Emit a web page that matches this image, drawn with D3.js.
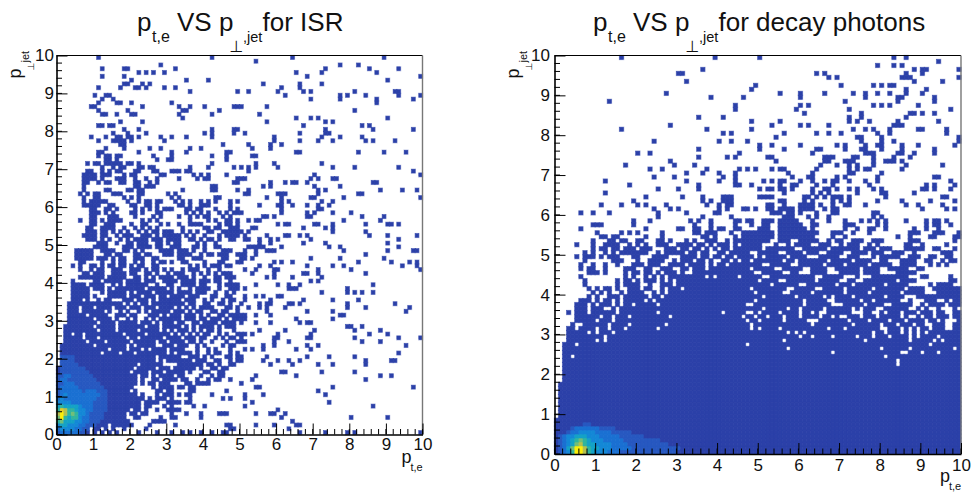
<!DOCTYPE html>
<html><head><meta charset="utf-8">
<script src="https://cdn.jsdelivr.net/npm/d3@7"></script>
<style>html,body{margin:0;background:#fff}svg{display:block}text{font-family:"Liberation Sans",Arial,sans-serif;fill:#111}</style>
</head><body><svg id="c" width="975" height="493"></svg>
<script>
// occupied bins per row; first entry is the bottom row (y bin 0), last the top row (y bin 99)
const isrRows = [
"0-8 10 12 14 16 22 27 31 34 36 39 42 45 46 66 73 79 81 99",
"0-8 10 11 13 15 18 24 47 48 63",
"0-13 15-20 25 32 46 47 54 59 65 66",
"0-19 26-29 64",
"0-18 21 22 28 31 32 39 61 80 90",
"0-18 20 21 23 24 31 35 39 44-46 54 58 59 62",
"0-19 21 22 24 27 30-33 60",
"0-22 24 25 29 31 37 40 51 86",
"0-22 24-27 30-33 35 36 53 74",
"0-23 25 27-29 31 36 45 47 51",
"0-21 23 27 29-31 33 35 36 42 51 56 73",
"0-19 21 27 28 30 31 36 37 46 71",
"0-20 26 28-31 33 34 36 37 54 55 75 97",
"0-21 23 25 26 28-30 35 36 38-41 50",
"0-21 23 26 27 29-32 34 35 38 41 43 44 47 53 84",
"0-21 23 24 26 28-31 33 34 39 42 44 45 54 65 88 91",
"0-19 21-24 26-28 30-34 36 40 41 44 45 61 62 72 81",
"0-20 22-26 28-30 32-37 39 42 43 45 46",
"1-21 23-28 33-39 41 42 44 47 48 58 64 71 75 84",
"1-26 28 30-36 38-40 43 44 47 49 50 56 60 63 66 84 91 92",
"1-26 28-33 36-38 40 42 46 47 49 50 57 68 74 81",
"1-11 13-16 18-20 22-29 31 33-36 38 41 43 44 47 49 93",
"1-13 15-18 20-22 24 26-29 31-34 38 41 43 47 51 53 56 65 69",
"1-9 11-18 20 22-26 29-31 33-35 38 40 45 47 48 56 59 68 71 95",
"2-7 9-12 14-19 21-26 28 29 31-34 36 37 39 42 46 49 50 51 59 63 83 88",
"2-6 8-10 12-18 20 21 23-28 30-33 35-37 39 40 43 45 47 48 50 59 60 68 69 81 93 99",
"2 3 5 6 8-17 19-23 25-30 32 34 36 38 40 41 44 46 49 50 51 53 60 69 85 90",
"2-10 12-15 17-21 23-27 29 31 33-35 37 39 41 42 44 48 55 62 70 81 88",
"2-9 11-15 17-23 25-27 29-33 35 37 39-42 44 46-48 79 80 83",
"3-10 12-15 17-21 23-25 27 29-31 33 34 37 38 40-43 45-48 50 54 58 66 68 69",
"3-9 11-14 16 19 21 24 26 28-33 35-37 39 40 42-44 46 48 49 50 51 65 75",
"3-7 9-13 16-18 20 21 25-27 29 31-33 35-37 39 41 44 45 47-50 51 54 58 77 78",
"3-5 7-12 14 17 19 22 24 26-30 32-34 36 38 39 42 43 45 46 49 57 68 75 95",
"3-5 7-9 11-14 16-18 20-22 24-26 28-31 33 35 37 39-42 46 47 49 52 55 57 62 79 84 96",
"3-17 19 21 23 24 26-34 36 37 40 41 44 45 47 50 55 57 58 63 64 66 79 92",
"4-6 8 11 13 14 18-20 22-24 26 28-33 35-37 40 42 45 47 48 51 58 67 75 82",
"4-8 10 14-18 20-22 24-26 28 29 31-34 36-38 42 43 46 47 51 54 56 60 61",
"4-8 12 14-18 20 22-25 27-31 33-36 38-40 43 46 48 72 79 81 83 86",
"4-8 10-12 14 16-23 25-29 31 33 36 38-41 44 47-49 51 63-65 79",
"4-7 9-12 15 17 19-24 27 30 31 34-37 39 40 44 46-49 54 60 63 66 86",
"4 10 11 13-17 19-22 24-26 29-32 34-37 39-41 43 44 47 69 71",
"6-12 14-18 21 22 24 26 28-31 33-35 37 40 43 44 46-48 57 59 64 72",
"7 8 10-12 15-18 20 21 24 25 27 30 32-34 37 39 41 43 45-47 53 59 67 68 71 84",
"6 9 11 12 15-17 20-22 24 26 27 29 31 34 36-38 41 44 51 54 59 60 71 80 99",
"4 6 9 10 12 14 15 17 18 20 22 23 26 27 36 38 40 42-44 46 47 55 58 68 75 78 94 98",
"6 7 12 15 17 18 21 23 26 28 29 31 34 35 40 44 45 49 50 59 61 64 82 91 96 98",
"5-9 11-13 15 17 18 21-23 26 27 33 34 37-39 45 46 50 51 53 69 77 89",
"5-9 13 14 16 17 21 22 24 25 29-31 33-36 39 41 42 44-46 49 50 51 54 84",
"5-9 12-15 18 19 21 23 28-31 33-35 37 40 45-47 51 54 57-59 78 90 97 98",
"10-13 18-20 22-25 27 28 31-33 37 38 40 43 44 52-56 61 74 77 93",
"11-13 16 19 20 22-24 27 28 30 32 33 38 40 43 55 58 67 73 90",
"8-10 12 14 17 19 21-24 26-28 30-33 36 37 39 41 42 44 47 48 51 52 55 58 60 69 93",
"7-10 12 13 16 18-20 23-25 27 29-33 35 37 40 44 46-49 51 57 62 63 66 68 85 90 98",
"8-10 12 13 15 17 19 22 24 26 27 29-31 34 36 38 41 42 45-50 52 75 84",
"8 9 12-14 15 18 21 23 25 27 34 40 41 43 44 47-49 53 54 67 73 75",
"9 10 13-15 20 23 24 28 30 33 36-39 44 46 47 49 60 62 63 70 71 75 84 90 91 93",
"6 9 10 12 14-17 23 25 27 36 41 43 46 47 49 52 54 55 78 88",
"9 10 14-16 21 26 28 33 36 38 40 41 45 47 56 57 59 68 69 83 89",
"9 10 11 13 15 20 21 23 27 28 35 37 39 41 44 46 48 49 50 61 68 70 75 80",
"9 10 13 14 16 21 23 25 27 29-31 35 36 38 39 43 47 49 61 71 72",
"7-11 14 15 20 21 24 25 27 33 34 36 39-41 47 55 60 61 64 68 71 74",
"7 9-13 19 22 24 25 27 28 32 34 36 39 41 43 47 49 61 63 72 75",
"7 10 11 18 20 22 31 33 43 44 57 61 69 70 78 99",
"6 8 10 11 15-17 22 23 30 32 51 52 60-62 71 82 83",
"7 13 14 19 20 22 23 34 42 43 49 52 71 73 88 94 98",
"7 21 22 24-26 42 43 56 58 70 77",
"7 8 11 13 14 17 18 21 22 25 27 48 49 58 62 64 65 68 86 87",
"7-10 12 16-18 21 24 27 33 38 40 41 49-51 69 71 75 76",
"7-10 12-14 18 20 21 28 29 37 39 41 46 70 99",
"8 9 12 14 16 17 21 22 26 27 31-33 35 36 52 97",
"12 15 17 18 22 23 25 26 36 41 48 50 52 54 60 75 81 93",
"8 10 11 13-17 19 20 22 42 54 59 72",
"13 14 16 27 30 31 46",
"11 13 14 16 17 26 31 42 46 53 54",
"11 12 22 31 35 46 47 65 66 82 89 95",
"13 18 25 28 36 39 53 58",
"17 18 45 52 58 61",
"11 15-18 20 29 59 66 71 75 84 86 92",
"9 13 16 17 19 20 22 28 31 35 42 59 72 77 83",
"15 19 24 40 42 48 51 66 73 74",
"18 22 42 48 49 73 86 97",
"11 12 14 15 67 83 85",
"17 23 57 73 75",
"34 65 69 71 90",
"12 13 16 20 21 33 42 55",
"11 19 34 35 44 81",
"9 10 23 33 36 40 48-50 57",
"11 16 17 20 31 87",
"12 15 69 77 87 97",
"10 13 14 62 77 79 84 93 99",
"36 49 52 60 67 69 81 92 93",
"11 17 21 22 24 29 32 61 66",
"18 19 23 25 56 66 72",
"20 35 41 90",
"12 18 68 99",
"22 24 26 29 65 72 87",
"12 18 19 32 73 85 93",
"28 77 82",
"54",
"11 42 64 89"
];
// colour level of the busy bins, [y bin, first x bin, levels...]
const isrHeat = [
[0,0,2,3,3,3,3,3,2,2],[1,0,3,4,4,4,4,3,3,2,2],[2,0,4,5,5,4,4,4,3,3,2,2,2],
[3,0,6,7,5,5,5,4,4,3,3,2,2,2],[4,0,7,10,6,5,6,6,4,3,3,2,2,2,2],[5,0,8,10,8,6,7,6,4,4,3,2,2,2,2],
[6,0,6,9,8,6,6,5,4,4,3,3,2,2,2,2],[7,0,5,6,5,5,5,5,4,3,3,3,2,2,2,2],[8,0,4,4,4,4,3,3,3,3,3,3,2,2,2,2],
[9,0,3,4,3,3,3,3,3,3,3,3,3,2,2,2],[10,0,2,3,4,3,3,3,3,3,3,3,3,3,2,2],[11,0,2,3,3,3,3,3,3,2,3,3,3,2,2,2],
[12,0,2,3,3,3,3,3,2,2,2,2,2,2,2],[13,0,2,2,3,3,3,2,2,2,2,2,2,2],[14,0,2,3,3,2,2,2,2,2,2,2,2],
[15,0,2,2,3,3,2,2,2,2,2,2],[16,0,1,2,2,2,2,2,2,2,2],[17,1,2,2,2,2,2,2,2],[18,1,2,2,2,2,2],[19,1,2,2,2,2],[20,1,2,2,2,2]
];
const decayRows = [
"0-99","0-99","0-99","0-99","0-99","0-99","0-99","0-99","0-99","1-99",
"1-99","1-99","1-99","1-99","1-99","1-99","1-99","1-99","2-99","2-99",
"2-99","2-99","2-99","2-99","2-99","2-99","2-99","2-99","3-99","3-99",
"3-99","3-99","4-99","5-99","5-99","3-99",
"5-7 9-11 14 16-44 45-50 52-56 58 59 61-65 67-72 74 76-78 81-86 89 91 94 98",
"5-7 9 11-13 15 17 18 20-24 26-44 45 46 49-60 62-67 71-75 77-80 83-87 90 92-95 97-99",
"6-8 10 12 13 15 17-21 23 25-44 45-48 50-60 62-66 69-74 76 77 79-84 87 91-93 96 98 99",
"8 10 13-15 17-22 24 25 27-44 45-50 52-58 60-65 67 69-72 74-80 82-85 89-99",
"9 11 13 16 18-21 24 26 28-44 45-48 50-55 58-62 64-70 72-76 78-84 86-90 94-99",
"8 10 12 13 15 18-20 22 23 26 28-30 32-44 45-47 49-56 59-63 66-70 72-77 79-85 87-90 93-99",
"7 15 17-20 23 26-28 30-44 45-52 54-59 62-68 70-72 74-80 82-86 92 94-97",
"7 15 17 18 20 22-24 26 28 30-44 45-49 51-54 57-63 65-69 72 73 76-83 85-88 97 98",
"6 17 19 22 24 26 28-36 38 40-44 46-50 53-63 66-70 74 78-86 90 91 97",
"8-10 12 17 19 20 22 23 25 27-29 31 34-44 45-48 51-55 58 59 63-66 70-74 76-79 84-88",
"6 8 9 12 17-19 22 23 26-28 31 32 34-36 38-44 45-47 49-53 56-60 63-66 69-74 76-79 82-86 89 90",
"6 9 12 15 19-21 23-25 28-31 33-36 38 40 41 43 44 45-50 53-57 60-65 67-70 72-76 78-82 85-88 92 94 96",
"7 14-16 20 23-26 29 31-33 35 36 38 41 42 44 46 47 49-55 57 58 60-66 68-72 74-77 80 81 85-88 91 92 95 97 98",
"5 7-9 11 13-15 19 20 24-27 31-34 36 37 39 40 42 43 45-48 50 52-56 58-61 65-69 72-74 78 80-84 87-89 92 93 96 97",
"7 9 12 14 16-22 25 27-31 33 34 36 37 40 41 43 44 45-47 50-54 57-60 62-64 67-70 73-76 78-80 83-85 88 95-97",
"9 11 12 14 15 17-19 21-23 27-29 31 32 34 35 37 39 41 42 44 45-50 52-58 61-66 68-74 76-78 80-82 86-90 93 94 98",
"5 9 12-15 18 20 22 25-27 30-33 35 36 38 40-42 44 46-50 54 57 59-62 65-67 70 72-74 77 79 86 87 90 96",
"9 13 14 16 17 20 21 25 26 28 32 34 37-39 42 44 45-52 55-57 60-64 67 69 70 73-75 78-80 87-89 98",
"11 12 14 15 22 26 36 37 39 44 46-53 55-63 68 71 84 87 92 93 98 99",
"10 16 18 20 26 34 35 37-39 43 46-53 55-64 68-70 73 77 87-89 93-95 99",
"6 22 30 31 34 35 38 40 41 44 45 50-52 55-61 63 71 74 77 78 81 88 91 94",
"9-11 19 34 38 44 48 51 52 55-60 63 64 71-73 79 81 91 93 94 97",
"19 23 33 35 38 44 45 47 48 51-53 55-59 63 67 71 75 77 79 81 86 91 93 94 96",
"25 36 43 56-58 62 64 67 78 80",
"6 9 13 25 32 39 40 53-55 57 58 60 64 68 69 78 79",
"24 28 30 40 42 46 47 49 52 53 55-58 60-63 66 68 69 90 96 98",
"11 16 20 22 27 37 40 42 43 52 53 56 60-63 65 68 71 72 76 86 89 95",
"19 36 38 41-43 55 56 61 63 68 70 72 79 85 92 98",
"22 31 36 41-43 50-53 61 62 64 66 68-70 72 81 95 96",
"12 56 63 65 67 74 80 81 88",
"25 30 35 50 52 53 55 56 58 63 66 67 69 72 74 78 80 90 91 93 97",
"18 35 44 45 48 55 58 59 64 68 77 91 93 98",
"12 32 40 44 51 53 55 56 60 63 66 68 69 72 76 79 97",
"24 29 41 44 58 62 63 69 71 79 93 94",
"32 36 40 44 57 63 72 73 80",
"23 26 37 45 47 49 53 55 56 64 72 74 76 77 85",
"17 29 34 65 69 72 74 78 86 95",
"28 54 66 67 71-73 78 81-83 85",
"35 42 44 52 53 66-68 73 74 78 83 87",
"20 23 45 63 76-78 84 85 88 93",
"35 50 56 64 65 71 75 76 80 85 93",
"50 53 60 69 71 76 79 80 85 89 98",
"24 40 43 47 75 80 83 99",
"54 74 75 80 99",
"41 43 56 64 67 70 79 82 96",
"16 37 48 73 76 78 82 89 90 96",
"28 53 60 62 67 83-85",
"48 55 72 74 77 84 94",
"35 41 72 75 86",
"61 75 87 88 90 93",
"44 59 72 97",
"44 60 62 78 80 82 89",
"13 71 84 93",
"38 46 60 76 84 85 93",
"27 55 60 66 73 76 79 82 86 90",
"48 86 91",
"49 70 78 80 82 83",
"32 88 95",
"67 69 85-87 99",
"30 31 64 66 86 90",
"36 88 90 91 99",
"79 83 85",
"94",
"16 39 50 83 86"
];
// white holes inside the solid rows, [y bin, x bins...]
const decayGaps = [
[22,84],[23,84],[24,4,81],[25,68,85,86,90,94],[26,57,80,87,98],[27,5,47,92],[28,10,12,56,76,87,93,95],
[29,12,60,63,68,74,78,82,87,89,94],[30,8,10,14,57,59,61,78,81,85,87,89,91],
[31,5,10,13,17,25,48,50,55,67,71,80,81,85,87,89,92,96,97],[32,5,6,13,18,27,48,63,73,80,84,88,91,92,96,97],
[33,10,14,47,50,56,62,63,64,72,77,82,86,91,94,96,97,98],[34,11,14,18,28,46,49,52,56,60,65,68,70,71,75,79,85,87,88,90,93,97],
[35,4,8,15,25,41,47,48,50,55,60,63,65,66,73,74,75,78,79,81,85,89,93,96,97]
];
const decayHeat = [
[0,0,1,2,3,4,6,10,10,8,6,5,4,4,4,3,3,3,2,2,2,2,2,2,2,2,2,2,2,2,2,2],
[1,0,1,2,3,5,7,10,10,8,6,5,5,4,4,4,3,3,3,3,3,2,2,2,2,2,2,2,2,2,2,2,2],
[2,0,1,2,3,4,5,7,8,6,5,5,4,4,4,4,3,3,3,3,2,2,2,2,2,2,2,2,2,2],
[3,0,1,2,3,4,5,6,7,6,5,4,4,4,3,3,3,3,3,2,2,2,2,2,2,2,2,2],
[4,1,2,3,4,4,5,5,5,4,4,4,3,3,3,3,3,2,2,2,2,2,2],
[5,3,2,3,3,4,4,4,4,3,3,3,3,2,2,2,2,2],
[6,4,2,3,3,3,3,3,3,2,2,2,2],[7,7,2,2]
];
const levelColors = ["#2b40a8","#2758c0","#1a70d2","#1488d6","#14a2c6","#30b49e","#72be78","#b4c04e","#e8ca26","#fcee08"];
const levelTicks = [1,2,3,4,5,6,7,8,9,10];
const tickValues = [0,1,2,3,4,5,6,7,8,9,10];
const minorValues = d3.range(0,10.01,0.2);

const svg = d3.select("#c");
const color = d3.scaleLinear().domain(levelTicks).range(levelColors);
const expand = s => s.split(" ").flatMap(t => { const p=t.split("-").map(Number); return p.length>1?d3.range(p[0],p[1]+1):p; });

function buildCells(rows, gaps, heat){
  const m = new Map();
  const gapMap = new Map(gaps.map(g=>[g[0],new Set(g.slice(1))]));
  rows.forEach((s,r)=>expand(s).forEach(c=>{ if(!(gapMap.get(r)&&gapMap.get(r).has(c))) m.set(r*100+c,{r,c,v:1}); }));
  heat.forEach(h=>h.slice(2).forEach((v,i)=>{ const k=h[0]*100+h[1]+i; if(m.has(k)) m.get(k).v=v; }));
  return Array.from(m.values());
}

function panel(o){
  const x=d3.scaleLinear().domain([0,10]).range([o.l,o.r]);
  const y=d3.scaleLinear().domain([0,10]).range([o.b,o.t]);
  const g=svg.append("g");
  const cells=buildCells(o.rows,o.gaps,o.heat);
  // pale halo first, so that the solid cells stay clean on top of it
  g.append("g").selectAll("rect").data(cells).join("rect")
    .attr("x",d=>x(d.c/10)).attr("y",d=>y((d.r+1)/10))
    .attr("width",x(0.1)-x(0)).attr("height",y(0)-y(0.1))
    .attr("fill","none").attr("stroke",d=>color(d.v)).attr("stroke-width",1.4).attr("stroke-opacity",0.35);
  g.append("g").selectAll("rect").data(cells).join("rect")
    .attr("x",d=>x(d.c/10)).attr("y",d=>y((d.r+1)/10))
    .attr("width",x(0.1)-x(0)).attr("height",y(0)-y(0.1))
    .attr("fill",d=>color(d.v)).attr("stroke",d=>color(d.v)).attr("stroke-width",0.4);
  // frame
  g.append("line").attr("x1",o.l).attr("x2",o.r).attr("y1",o.t).attr("y2",o.t).attr("stroke","#000").attr("stroke-width",1);
  g.append("line").attr("x1",o.r).attr("x2",o.r).attr("y1",o.t).attr("y2",o.b).attr("stroke","#777").attr("stroke-width",1.4);
  // axes, ROOT style with ticks inside the frame
  const ax=g.append("g").attr("transform",`translate(0,${o.b})`)
    .call(d3.axisBottom(x).tickValues(tickValues).tickFormat(d3.format("d")).tickSize(-11).tickSizeOuter(0).tickPadding(o.px));
  const ay=g.append("g").attr("transform",`translate(${o.l},0)`)
    .call(d3.axisLeft(y).tickValues(tickValues).tickFormat(d3.format("d")).tickSize(-11).tickSizeOuter(0).tickPadding(o.py));
  [ax,ay].forEach(a=>{a.selectAll("text").style("font-size","17px").attr("fill","#111");a.select(".domain").attr("stroke-width",1.6).attr("stroke","#000");a.selectAll("line").attr("stroke","#000").attr("stroke-width",1);});
  g.append("g").selectAll("line").data(minorValues).join("line")
    .attr("x1",d=>x(d)).attr("x2",d=>x(d)).attr("y1",o.b).attr("y2",o.b-5.5).attr("stroke","#000");
  g.append("g").selectAll("line").data(minorValues).join("line")
    .attr("y1",d=>y(d)).attr("y2",d=>y(d)).attr("x1",o.l).attr("x2",o.l+5.5).attr("stroke","#000");
  // titles
  const t=(x0,y0,s,fs)=>g.append("text").attr("x",x0).attr("y",y0).attr("font-size",fs).text(s);
  t(o.tp,31,"p",26); t(o.tp+15,42,"t,e",16);
  t(o.tp+40,31,"VS p",26);
  g.append("text").attr("x",o.tp+92.5).attr("y",52).attr("font-size",16).attr("style","font-family:'DejaVu Sans'").text("⊥");
  t(o.tp+106,42,",jet",14.5);
  t(o.tp+125.5,31,o.tail,26);
  // axis titles
  t(o.r-21,o.b+28,"p",18); t(o.r-12,o.b+36,"t,e",11);
  const yl=g.append("g").attr("transform",`translate(${o.l-35.5},${o.t+23}) rotate(-90)`);
  yl.append("text").attr("x",0).attr("y",0).attr("font-size",18).text("p");
  yl.append("text").attr("x",8).attr("y",13).attr("font-size",9).attr("style","font-family:'DejaVu Sans'").text("⊥");
  yl.append("text").attr("x",16).attr("y",8).attr("font-size",11).text("jet");
}

panel({l:56.5,r:422.5,t:55.5,b:434.5,rows:isrRows,gaps:[],heat:isrHeat,tp:137,tail:"for ISR",px:3.5,py:2.5});
panel({l:554.5,r:961,t:55.5,b:454,rows:decayRows,gaps:decayGaps,heat:decayHeat,tp:593,tail:"for decay photons",px:4.5,py:4.5});
</script></body></html>
